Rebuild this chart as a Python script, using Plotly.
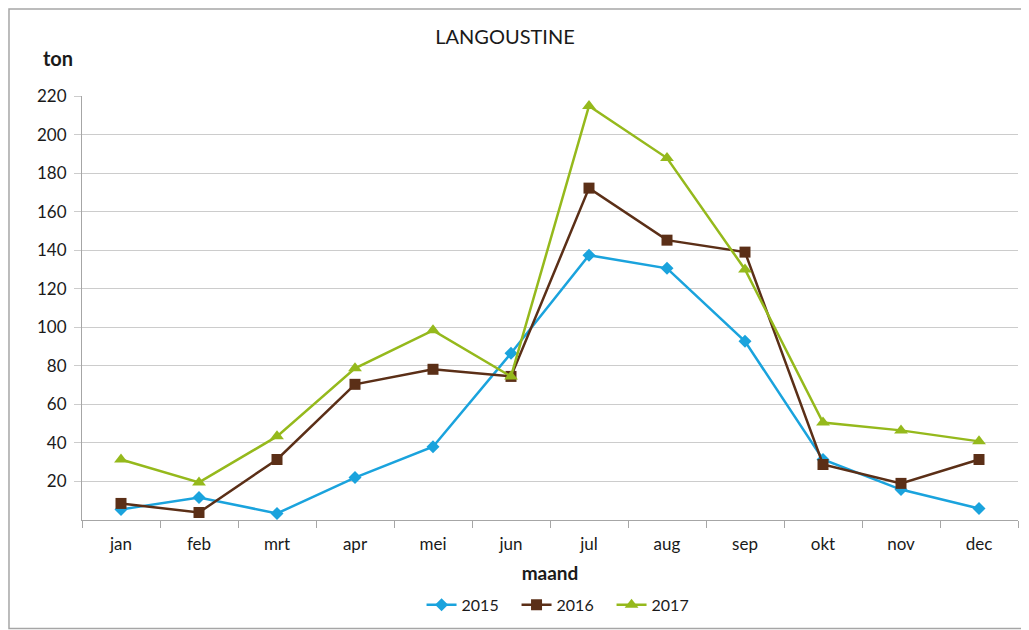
import plotly.graph_objects as go

months = ["jan", "feb", "mrt", "apr", "mei", "jun", "jul", "aug", "sep", "okt", "nov", "dec"]
y2015 = [5.5, 11.7, 3.4, 22, 38, 86.5, 137.4, 130.6, 92.7, 31.4, 15.8, 6]
y2016 = [8.6, 3.9, 31.4, 70.4, 78.2, 74.5, 172.2, 145.2, 139, 28.8, 19, 31.4]
y2017 = [31.4, 19.5, 43.4, 78.7, 98.4, 74.5, 214.8, 187.8, 130, 50.6, 46.5, 40.8]
y_ticks = [20, 40, 60, 80, 100, 120, 140, 160, 180, 200, 220]

FONT = "Lato"
series = [
    ("2015", y2015, "#1aa3dd", "diamond", 10),
    ("2016", y2016, "#5b2f17", "square", 11),
    ("2017", y2017, "#95b91c", "triangle-up", 12),
]

fig = go.Figure()
for name, ys, col, sym, sz in series:
    fig.add_trace(go.Scatter(
        x=months, y=ys, name=name, mode="lines+markers",
        line=dict(color=col, width=2.5),
        marker=dict(symbol=sym, size=sz, color=col),
    ))

# page body adds an 8px offset, margins below compensate for it
fig.update_layout(
    width=1029, height=630,
    paper_bgcolor="white", plot_bgcolor="white",
    font=dict(family=FONT, size=17, color="#1a1a1a"),
    margin=dict(l=74, r=19, t=88, b=118, autoexpand=False),
    title=dict(text="LANGOUSTINE", x=0.483, xanchor="center", y=0.954, yanchor="middle",
               font=dict(family=FONT, size=20, color="#1a1a1a")),
    xaxis=dict(
        type="category", range=[-0.5, 11.5], showgrid=False, showline=True,
        linecolor="#a6a6a6", linewidth=1,
        ticks="outside", tickson="boundaries", ticklen=7, tickcolor="#a6a6a6",
        ticklabelstandoff=9, automargin=False,
        title=dict(text="<b>maand</b>", standoff=13, font=dict(size=19)),
    ),
    yaxis=dict(
        range=[0, 220], tickvals=y_ticks, showgrid=True, gridcolor="#cccccc", gridwidth=1,
        showline=True, linecolor="#a6a6a6", linewidth=1, zeroline=False,
        ticks="outside", ticklen=7, tickcolor="#cccccc", ticklabelstandoff=4,
        automargin=False,
    ),
    legend=dict(orientation="h", x=0.515, xanchor="center", y=-0.2, yanchor="middle",
                font=dict(size=16), tracegroupgap=0,
                entrywidth=50, entrywidthmode="pixels"),
    annotations=[dict(text="<b>ton</b>", xref="paper", yref="paper", x=-0.008, y=1.09,
                      xanchor="right", yanchor="middle", showarrow=False,
                      font=dict(size=20))],
    shapes=[dict(type="rect", xref="paper", yref="paper", x0=-0.078, x1=1.0085,
                 y0=-0.256, y1=1.205, line=dict(color="#a6a6a6", width=1.5))],
)

fig.write_html("out.html")
